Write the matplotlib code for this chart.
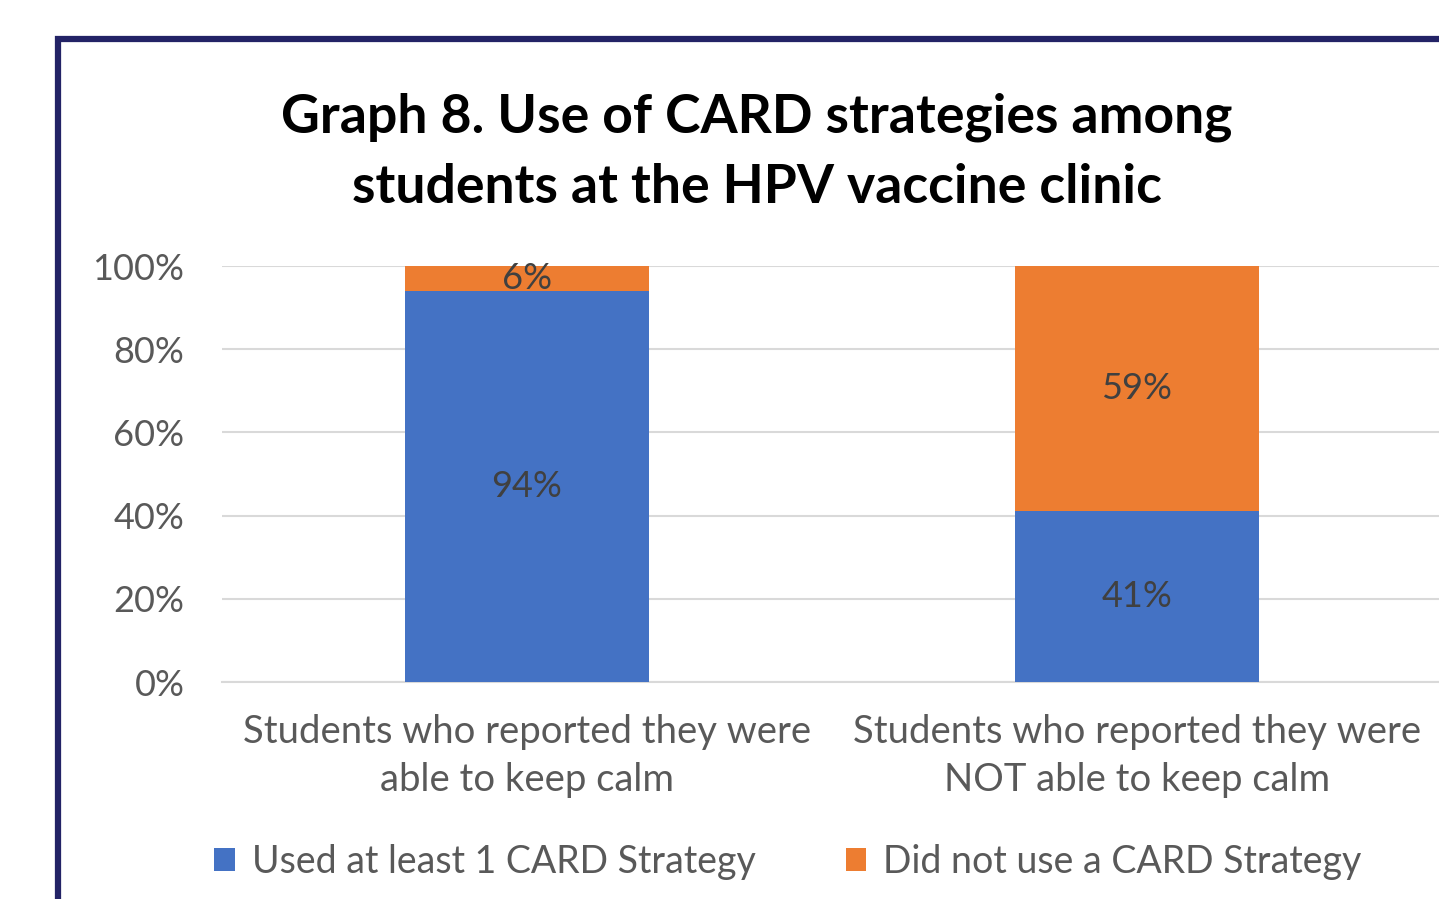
import matplotlib
matplotlib.use("Agg")
import matplotlib.pyplot as plt
from matplotlib.patches import Rectangle
import numpy as np

CATEGORIES = [
    "Students who reported they were\nable to keep calm",
    "Students who reported they were\nNOT able to keep calm",
]
USED_CARD = [94, 41]
NOT_USED_CARD = [6, 59]
SERIES_LABELS = ["Used at least 1 CARD Strategy", "Did not use a CARD Strategy"]
Y_TICKS = [0, 20, 40, 60, 80, 100]
TITLE = "Graph 8. Use of CARD strategies among\nstudents at the HPV vaccine clinic"

BLUE = "#4472C4"
ORANGE = "#ED7D31"
NAVY = "#232366"
TICK_GRAY = "#595959"
LABEL_GRAY = "#404040"

plt.rcParams["font.family"] = ["Lato", "DejaVu Sans"]

W, H = 1439, 899
fig = plt.figure(figsize=(W / 100, H / 100), dpi=100)
fig.patch.set_facecolor("white")

# navy frame running off the right and bottom edges
fig.patches.append(
    Rectangle((57.5 / W, -0.1), 1.2, (H - 39.5) / H + 0.1,
              transform=fig.transFigure, fill=False,
              edgecolor=NAVY, linewidth=4.5, clip_on=False)
)

fig.text(757 / W, 1 - 152 / H, TITLE, ha="center", va="center",
         fontsize=38.5, fontweight="bold", color="black", linespacing=1.52)

ax_left, ax_right = 222, 1442
ax_top, ax_bottom = 266, 682
ax = fig.add_axes([ax_left / W, 1 - ax_bottom / H,
                   (ax_right - ax_left) / W, (ax_bottom - ax_top) / H])
ax.set_facecolor("none")

x = np.arange(len(CATEGORIES))
width = 0.4
used = np.array(USED_CARD, dtype=float)
not_used = np.array(NOT_USED_CARD, dtype=float)
b1 = ax.bar(x, used, width, color=BLUE, label=SERIES_LABELS[0], zorder=3)
b2 = ax.bar(x, not_used, width, bottom=used, color=ORANGE,
            label=SERIES_LABELS[1], zorder=3)

for xi, u, n in zip(x, used, not_used):
    ax.text(xi, u / 2, f"{int(u)}%", ha="center", va="center",
            fontsize=26, color=LABEL_GRAY, zorder=4)
    ax.text(xi, u + n / 2, f"{int(n)}%", ha="center", va="center",
            fontsize=26, color=LABEL_GRAY, zorder=4)

ax.set_xlim(-0.5, 1.5)
ax.set_ylim(0, 100)
ax.set_yticks(Y_TICKS)
ax.set_yticklabels([f"{t}%" for t in Y_TICKS])
ax.set_xticks(x)
ax.set_xticklabels(CATEGORIES)
ax.tick_params(axis="y", length=0, pad=27, labelsize=26, labelcolor=TICK_GRAY)
ax.tick_params(axis="x", length=0, pad=23, labelsize=27.5, labelcolor=TICK_GRAY)
for lbl in ax.get_xticklabels():
    lbl.set_linespacing(1.42)
ax.grid(axis="y", color="#D9D9D9", linewidth=1.5, zorder=0)
for side in ["top", "right", "left"]:
    ax.spines[side].set_visible(False)
ax.spines["bottom"].set_color("#D9D9D9")
ax.spines["bottom"].set_linewidth(1.5)

fig.legend(handles=[b1, b2], labels=SERIES_LABELS, loc="center",
           bbox_to_anchor=(788 / W, 1 - 862 / H), ncol=2, frameon=False,
           fontsize=27, labelcolor=TICK_GRAY, handlelength=0.55,
           handleheight=0.55, handletextpad=0.45, columnspacing=2.4)

fig.savefig("out.png", dpi=100, facecolor="white")
